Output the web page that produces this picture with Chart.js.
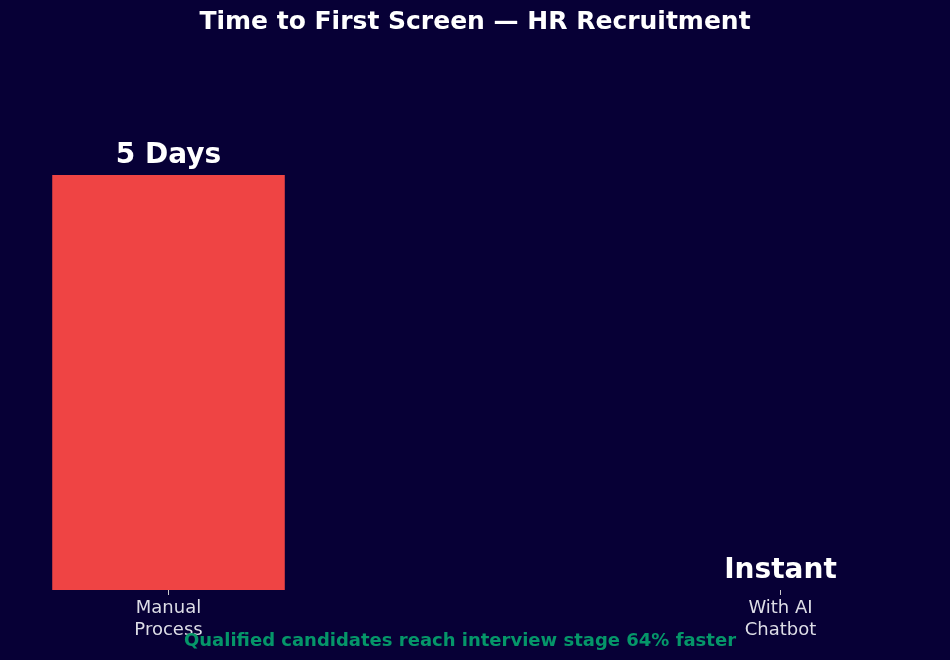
<!DOCTYPE html>
<html>
<head>
<meta charset="utf-8">
<script src="https://cdn.jsdelivr.net/npm/chart.js@4/dist/chart.umd.min.js"></script>
<style>
  html, body { margin: 0; padding: 0; background: #070036; }
  #wrap { width: 950px; height: 660px; }
</style>
</head>
<body>
<div id="wrap"><canvas id="chart"></canvas></div>
<script>
// data
const categories = [['Manual', 'Process'], ['With AI', 'Chatbot']];
const daysToScreen = [5, 0];
const valueLabels = ['5 Days', 'Instant'];

const chartTitle = 'Time to First Screen \u2014 HR Recruitment';
const footNote = 'Qualified candidates reach interview stage 64% faster';

const FONT = '"DejaVu Sans", sans-serif';

// title, footer and value labels
const textPlugin = {
    id: 'texts',
    afterDatasetsDraw(chart) {
        const c = chart.ctx;
        c.save();
        c.textAlign = 'center';
        c.textBaseline = 'middle';
        c.fillStyle = '#ffffff';
        c.font = 'bold 25px ' + FONT;
        c.fillText(chartTitle, 475, 22);

        c.font = 'bold 28px ' + FONT;
        c.textBaseline = 'bottom';
        chart.getDatasetMeta(0).data.forEach((bar, i) => {
            c.fillText(valueLabels[i], bar.x, bar.y - 5);
        });

        c.textBaseline = 'middle';
        c.fillStyle = '#059669';
        c.font = 'bold 18px ' + FONT;
        c.fillText(footNote, 460, 641);
        c.restore();
    }
};

new Chart(document.getElementById('chart'), {
    type: 'bar',
    data: {
        datasets: [{
            data: daysToScreen.map((v, i) => ({ x: i, y: v })),
            backgroundColor: '#ef4444',
            borderWidth: 0,
            categoryPercentage: 1,
            barPercentage: 0.38
        }]
    },
    options: {
        responsive: true,
        maintainAspectRatio: false,
        animation: false,
        layout: { padding: { top: 92, left: 10, right: 11, bottom: 0 } },
        plugins: {
            legend: { display: false },
            tooltip: { enabled: false }
        },
        scales: {
            x: {
                type: 'linear',
                offset: false,
                min: -0.259,
                max: 1.259,
                afterBuildTicks(scale) {
                    scale.ticks = categories.map((_, i) => ({ value: i }));
                },
                afterFit(scale) { scale.height = 70; },
                ticks: {
                    color: '#dddde6',
                    font: { family: FONT, size: 18, lineHeight: 1.2 },
                    padding: 3,
                    maxRotation: 0,
                    callback: (v) => categories[v]
                },
                grid: {
                    offset: false,
                    drawOnChartArea: false,
                    tickLength: 5,
                    tickColor: '#cccccc',
                    tickWidth: 1
                },
                border: { display: false }
            },
            y: {
                display: false,
                min: 0,
                max: 6
            }
        }
    },
    plugins: [textPlugin]
});
</script>
</body>
</html>
